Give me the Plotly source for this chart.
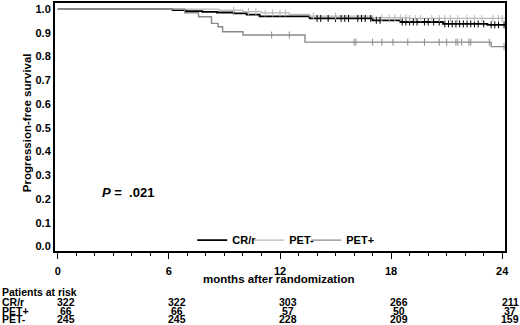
import numpy as np
import plotly.graph_objects as go

# ---- data ----
series_names = ["CR/r", "PET-", "PET+"]

crr_t = [0, 6.2, 6.9, 7.8, 8.6, 9.5, 10.2, 10.9, 13.6, 17.0, 18.5, 20.8, 23.2, 24.15]
crr_s = [1.0, 0.996, 0.992, 0.989, 0.986, 0.982, 0.977, 0.970, 0.961, 0.953, 0.946, 0.938, 0.934, 0.934]

petneg_t = [0, 8.7, 10.0, 11.0, 12.5, 13.6, 17.0, 19.0, 24.15]
petneg_s = [1.0, 0.996, 0.990, 0.984, 0.978, 0.971, 0.964, 0.961, 0.961]

petpos_t = [0, 6.85, 7.6, 8.3, 8.65, 8.9, 10.0, 13.35, 23.4, 24.15]
petpos_s = [1.0, 0.985, 0.968, 0.940, 0.926, 0.905, 0.891, 0.861, 0.842, 0.842]

crr_cens = [14.0, 14.2, 14.6, 15.0, 15.3, 15.5, 15.7, 16.2, 16.4, 16.6, 16.9, 17.2, 17.4,
            18.6, 18.8, 19.0, 19.2, 19.4, 19.8, 20.0, 20.3, 20.6, 20.9, 21.1, 21.3, 21.5,
            21.7, 21.9, 22.1, 22.3, 22.5, 22.7, 23.0, 23.4, 23.6, 23.8, 24.1]
petneg_cens = [9.5, 10.3, 10.7, 11.2, 11.6, 12.0, 12.3, 13.8, 15.0, 17.5, 17.9, 18.2, 18.5,
               18.8, 19.0, 19.3, 19.6, 20.2, 20.6, 20.9, 21.2, 21.6, 22.1, 22.5, 22.9,
               23.5, 23.8, 24.0]
petpos_cens = [11.55, 12.5, 16.0, 16.1, 17.0, 17.5, 18.1, 18.9, 19.8, 20.6, 21.0, 21.5,
               21.6, 21.8, 22.2, 22.3, 23.3, 24.1]

risk_times = [0, 6, 12, 18, 24]
risk_labels = ["CR/r", "PET+", "PET-"]
risk_crr = [322, 322, 303, 266, 211]
risk_petpos = [66, 66, 57, 50, 37]
risk_petneg = [245, 245, 228, 209, 159]

x_ticks = [0, 6, 12, 18, 24]
y_ticks = [0.0, 0.1, 0.2, 0.3, 0.4, 0.5, 0.6, 0.7, 0.8, 0.9, 1.0]

colors = {"CR/r": "#000000", "PET-": "#b8b8b8", "PET+": "#8a8a8a"}
widths = {"CR/r": 1.8, "PET-": 1.2, "PET+": 1.4}

FONT = "Liberation Sans, Arial, sans-serif"


def step_at(ts, ss, x):
    idx = np.searchsorted(np.array(ts), np.array(x), side="right") - 1
    return np.array(ss)[idx]


fig = go.Figure()
curves = {"CR/r": (crr_t, crr_s, crr_cens),
          "PET-": (petneg_t, petneg_s, petneg_cens),
          "PET+": (petpos_t, petpos_s, petpos_cens)}

for name in series_names:
    t, s, c = curves[name]
    fig.add_trace(go.Scatter(x=t, y=s, mode="lines", name=name, line_shape="hv",
                             line=dict(color=colors[name], width=widths[name])))
# spacer entry so the last legend label is not clipped
fig.add_trace(go.Scatter(x=[None], y=[None], mode="lines", name="&nbsp;",
                         line=dict(color="rgba(0,0,0,0)", width=0), hoverinfo="skip"))
for name in series_names:
    t, s, c = curves[name]
    fig.add_trace(go.Scatter(x=c, y=step_at(t, s, c), mode="markers", showlegend=False,
                             marker=dict(symbol="line-ns-open", size=5, color=colors[name],
                                         line=dict(color=colors[name], width=1))))

fig.update_layout(
    width=520, height=325,
    margin=dict(l=55, r=15, t=1, b=74),
    paper_bgcolor="white", plot_bgcolor="white",
    font=dict(family=FONT, size=11, color="black", weight="bold"),
    showlegend=True,
    legend=dict(orientation="h", x=0.305, y=0.044, xanchor="left", yanchor="middle",
                bgcolor="rgba(0,0,0,0)", font=dict(size=11, weight="bold"),
                itemwidth=30, entrywidth=12, tracegroupgap=0),
)
fig.update_xaxes(range=[-0.15, 24.15], tickvals=x_ticks, ticktext=[str(v) for v in x_ticks],
                 showline=True, linecolor="black", linewidth=2, mirror=True,
                 ticks="outside", ticklen=6, tickwidth=1, tickcolor="black",
                 ticklabelstandoff=3,
                 minor=dict(dtick=1, ticks="outside", ticklen=3, tickcolor="black", tickwidth=1),
                 showgrid=False, zeroline=False,
                 tickfont=dict(size=11, weight="bold"))
fig.update_yaxes(range=[-0.019, 1.026], tickvals=y_ticks, ticktext=[f"{v:.1f}" for v in y_ticks],
                 showline=True, linecolor="black", linewidth=2, mirror=True,
                 ticks="", showgrid=False, zeroline=False,
                 tickfont=dict(size=11, weight="bold"))

ann = []
ann.append(dict(text="months after randomization", x=0.4956, y=-0.114, xref="paper", yref="paper",
                showarrow=False, xanchor="center", yanchor="middle", font=dict(size=11.5)))
ann.append(dict(text="Progression-free survival", x=-0.062, y=0.516, xref="paper", yref="paper",
                showarrow=False, textangle=-90, xanchor="center", yanchor="middle",
                font=dict(size=11.5)))
ann.append(dict(text="<i>P</i> =&nbsp;&nbsp;.021", x=0.1, y=0.236, xref="paper", yref="paper",
                showarrow=False, xanchor="left", yanchor="middle", font=dict(size=13)))
ann.append(dict(text="Patients at risk", x=-0.122, y=-0.164, xref="paper", yref="paper",
                showarrow=False, xanchor="left", yanchor="middle", font=dict(size=10.5)))
row_y = [-0.204, -0.240, -0.276]
row_vals = [risk_crr, risk_petpos, risk_petneg]
for lab, yy, vals in zip(risk_labels, row_y, row_vals):
    ann.append(dict(text=lab, x=-0.122, y=yy, xref="paper", yref="paper", showarrow=False,
                    xanchor="left", yanchor="middle", font=dict(size=10.5)))
    for tt, v in zip(risk_times, vals):
        ann.append(dict(text=str(v), x=tt, y=yy, xref="x", yref="paper", showarrow=False,
                        xanchor="center", yanchor="middle", xshift=8, font=dict(size=10.5)))
fig.update_layout(annotations=ann)

fig.write_html("out.html", config={"displayModeBar": False},
               post_script="document.body.style.margin='0px';")
